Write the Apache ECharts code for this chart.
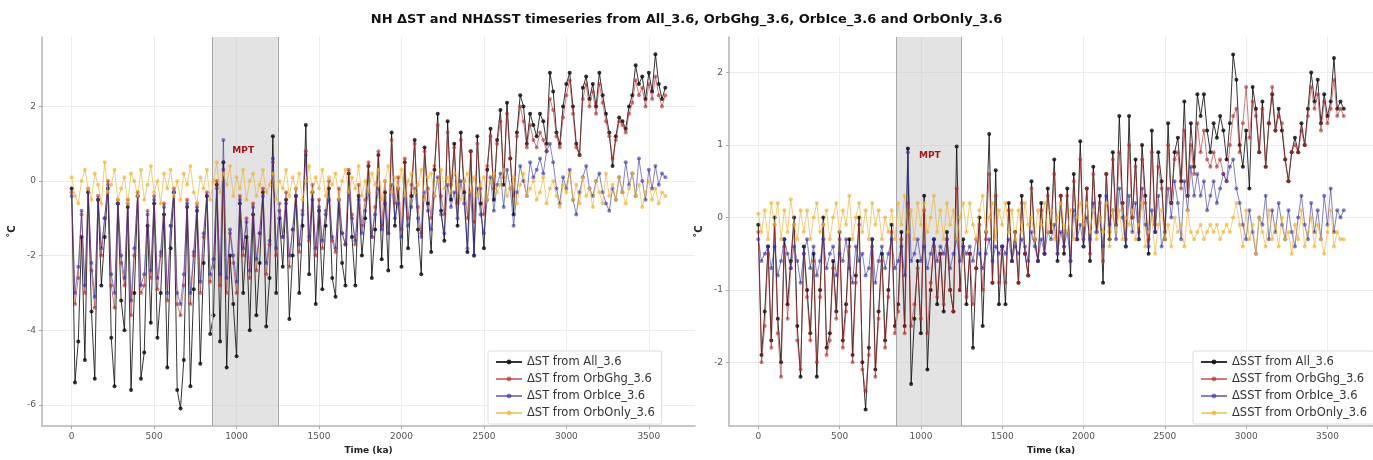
<!DOCTYPE html>
<html>
<head>
<meta charset="utf-8">
<script src="https://cdn.jsdelivr.net/npm/echarts@6/dist/echarts.min.js"></script>
<style>
  html, body { margin: 0; padding: 0; background: #fff; }
  #chart { width: 1373px; height: 460px; }
</style>
</head>
<body>
<div id="chart"></div>
<script>
// time axis, every 20 ka from 0 to 3600
const times = [];
for (let t = 0; t <= 3600; t += 20) times.push(t);

const xTicks = [0, 500, 1000, 1500, 2000, 2500, 3000, 3500];
const yTicksST = [-6, -4, -2, 0, 2];
const yTicksSST = [-2, -1, 0, 1, 2];

// NH ΔST (left panel)
const stAll = [
  -0.2, -5.4, -4.3, -1.5, -4.8,  -0.3, -3.5, -5.3, -0.5, -2.8,
  -1.5, -0.2, -4.2, -5.5, -0.6,  -3.2, -4.0, -0.7, -5.6, -3.0,
  -0.4, -5.3, -4.6, -1.2, -3.8,  -0.6, -4.2, -3.0, -0.9, -5.0,
  -1.8, -0.3, -5.6, -6.1, -4.8,  -0.7, -5.5, -2.9, -0.8, -4.9,
  -2.2, -0.4, -4.1, -3.6, -0.1,  -4.3, 0.5, -5.0, -2.0, -3.3,
  -4.7, -0.6, -3.0, -1.5, -4.0,  -0.9, -3.6, -2.2, -0.3, -3.9,
  -2.6, 1.2, -3.0, -1.0, -2.3,   -0.5, -3.7, -2.0, -0.4, -3.0,
  -1.2, 1.5, -2.5, -0.3, -3.3,   -0.8, -2.9, -1.2, -0.2, -2.6,
  -3.1, -0.5, -2.2, -2.8, 0.2,   -1.5, -2.8, -0.4, -2.0, -1.0,
  0.4, -2.6, -1.3, 0.7, -2.1,    -0.3, -2.4, 1.3, -1.2, -0.2,
  -2.3, 0.5, -1.8, -0.4, 1.1,    -1.3, -2.5, 0.9, -0.6, -1.9,
  0.3, 1.8, -0.8, -1.6, 1.6,     -0.5, 1.0, -1.2, 1.3, -0.3,
  -1.9, 0.8, -2.0, 1.2, -0.6,    -1.8, 0.3, 1.4, -0.5, 1.1,
  1.9, -0.1, 2.1, 0.6, -0.9,     1.3, 2.3, 2.0, 1.0, 1.8,
  1.5, 1.2, 1.8, 1.6, 1.0,       2.9, 2.4, 1.3, 1.0, 2.0,
  2.6, 2.9, 2.0, 1.0, 0.7,       2.5, 2.8, 2.2, 2.6, 2.0,
  2.9, 2.3, 1.8, 1.3, 0.4,       1.2, 1.7, 1.6, 1.4, 2.0,
  2.3, 3.1, 2.6, 2.8, 2.2,       2.9, 2.4, 3.4, 2.6, 2.2,
  2.5
];
const stOrbGhg = [
  -0.3, -3.3, -2.6, -0.9, -3.0,  -0.2, -2.4, -3.4, -0.4, -2.0,
  -1.0, 0.0, -2.8, -3.4, -0.5,   -2.2, -2.8, -0.5, -3.6, -2.0,
  -0.3, -3.0, -2.8, -0.8, -2.6,  -0.4, -2.9, -2.0, -0.6, -3.2,
  -1.2, -0.2, -3.3, -3.6, -2.8,  -0.5, -3.3, -2.0, -0.6, -3.0,
  -1.5, -0.3, -2.7, -2.3, 0.0,   -2.8, 0.3, -3.0, -1.4, -2.2,
  -3.0, -0.4, -2.0, -1.0, -2.6,  -0.6, -2.4, -1.4, -0.2, -2.5,
  -1.7, 0.5, -2.0, -0.6, -1.5,   -0.3, -2.3, -1.3, -0.2, -1.9,
  -0.8, 0.8, -1.6, -0.1, -2.0,   -0.5, -1.8, -0.8, 0.0, -1.6,
  -1.9, -0.2, -1.4, -1.7, 0.3,   -0.9, -1.7, -0.1, -1.2, -0.5,
  0.5, -1.5, -0.7, 0.8, -1.2,    0.0, -1.4, 1.1, -0.6, 0.1,
  -1.3, 0.6, -1.0, -0.1, 1.0,    -0.7, -1.4, 0.8, -0.2, -1.0,
  0.4, 1.5, -0.4, -0.9, 1.3,     -0.1, 0.9, -0.6, 1.1, 0.0,
  -1.0, 0.8, -1.1, 1.0, -0.2,    -0.9, 0.4, 1.2, -0.2, 1.0,
  1.6, 0.1, 1.8, 0.6, -0.4,      1.2, 2.0, 1.6, 0.9, 1.5,
  1.1, 0.9, 1.3, 1.1, 0.8,       2.2, 1.9, 1.2, 0.9, 1.7,
  2.3, 2.7, 1.8, 0.9, 0.7,       2.2, 2.6, 2.0, 2.4, 1.8,
  2.6, 2.1, 1.6, 1.2, 0.6,       1.1, 1.6, 1.5, 1.3, 1.8,
  2.1, 2.7, 2.3, 2.5, 2.0,       2.6, 2.2, 2.8, 2.3, 2.0,
  2.3
];
const stOrbIce = [
  -0.4, -3.0, -2.3, -0.8, -2.8,  -0.3, -2.2, -3.1, -0.5, -1.8,
  -1.0, -0.1, -2.5, -3.0, -0.6,  -2.0, -2.6, -0.6, -3.2, -1.8,
  -0.4, -2.8, -2.5, -0.9, -2.4,  -0.5, -2.6, -1.9, -0.7, -3.0,
  -1.2, -0.3, -3.0, -3.3, -2.5,  -0.6, -3.0, -1.9, -0.7, -2.7,
  -1.4, -0.4, -2.5, -2.1, -0.2,  -2.5, 1.1, -2.6, -1.3, -2.0,
  -2.7, -0.5, -1.8, -1.1, -2.4,  -0.7, -2.1, -1.4, -0.4, -2.2,
  -1.6, 0.6, -1.8, -0.8, -1.5,   -0.6, -2.0, -1.3, -0.4, -1.7,
  -0.9, 0.7, -1.5, -0.5, -1.8,   -0.7, -1.6, -0.9, -0.5, -1.5,
  -1.8, -0.5, -1.4, -1.7, -0.3,  -1.0, -1.6, -0.5, -1.4, -0.8,
  -0.3, -1.5, -0.9, -0.2, -1.3,  -0.6, -1.4, -0.1, -1.0, -0.6,
  -1.5, -0.4, -1.2, -0.7, -0.2,  -1.0, -1.5, -0.3, -0.8, -1.3,
  -0.4, 0.1, -0.9, -1.4, -0.1,   -0.7, -0.3, -1.0, 0.0, -0.6,
  -1.8, -0.3, -2.0, -0.2, -0.9,  -1.4, -0.5, 0.1, -0.8, -0.1,
  0.2, -0.7, 0.3, -0.2, -1.2,    -0.3, 0.4, 0.0, -0.4, 0.5,
  0.1, 0.3, 0.6, 0.2, 0.8,       1.0, 0.5, -0.2, -0.6, 0.1,
  -0.2, 0.3, -0.5, -0.9, -0.3,   0.1, 0.4, -0.2, -0.4, 0.0,
  0.2, -0.3, -0.6, -0.8, -0.2,   -0.5, 0.1, -0.3, 0.5, -0.1,
  0.2, -0.4, 0.6, 0.0, -0.5,     0.3, -0.2, 0.4, -0.1, 0.2,
  0.1
];
const stOrbOnly = [
  0.1, -0.4, -0.6, 0.0, 0.3,     -0.2, -0.5, 0.2, -0.1, -0.6,
  0.5, -0.3, -0.1, 0.3, -0.5,    -0.2, 0.1, -0.6, 0.2, 0.0,
  -0.4, 0.3, -0.5, -0.1, 0.4,    -0.3, 0.0, -0.6, 0.2, -0.2,
  0.3, -0.4, 0.0, -0.5, 0.2,     -0.1, 0.4, -0.3, -0.6, 0.1,
  -0.2, 0.3, -0.5, 0.0, 0.5,     -0.3, 0.2, -0.1, 0.4, -0.4,
  0.1, -0.2, 0.3, -0.5, 0.0,     0.2, -0.4, -0.1, 0.3, -0.3,
  -0.1, 0.2, -0.5, 0.0, -0.2,    0.3, -0.4, 0.1, -0.2, 0.2,
  -0.5, 0.0, 0.4, -0.3, 0.1,     -0.2, 0.3, -0.4, 0.1, -0.1,
  0.2, -0.5, 0.0, 0.3, -0.3,     0.1, -0.2, 0.4, -0.4, 0.0,
  -0.3, 0.2, -0.1, 0.3, -0.5,    0.0, 0.4, -0.3, 0.1, -0.2,
  0.3, -0.4, 0.0, 0.2, -0.3,     -0.1, 0.3, -0.5, 0.1, 0.2,
  -0.4, 0.0, 0.3, -0.2, 0.1,     -0.3, 0.2, -0.1, -0.5, 0.0,
  0.2, -0.3, 0.1, -0.4, -0.1,    0.1, -0.5, 0.0, 0.2, -0.3,
  -0.1, 0.3, -0.4, -0.2, 0.1,    -0.6, -0.1, 0.2, -0.4, -0.2,
  0.0, -0.5, -0.3, 0.1, -0.6,    -0.2, 0.0, -0.4, -0.7, -0.1,
  -0.3, 0.2, -0.5, -0.1, -0.6,   0.1, -0.4, -0.2, -0.7, 0.0,
  -0.3, -0.6, 0.2, -0.4, -0.1,   -0.5, 0.1, -0.3, -0.6, -0.2,
  0.2, -0.4, -0.1, -0.7, -0.3,   0.0, -0.5, -0.2, -0.6, -0.3,
  -0.4
];

// NH ΔSST (right panel)
const sstAll = [
  -0.1, -1.9, -1.3, -0.4, -1.7,  0.0, -1.4, -2.0, -0.3, -1.2,
  -0.6, 0.0, -1.5, -2.2, -0.4,   -1.0, -1.6, -0.5, -2.2, -1.0,
  0.0, -1.8, -1.6, -0.6, -1.3,   -0.2, -1.7, -1.2, -0.3, -1.9,
  -0.8, 0.0, -2.0, -2.65, -1.8,  -0.3, -2.1, -1.3, -0.5, -1.7,
  -1.0, -0.1, -1.5, -1.2, -0.2,  -1.5, 0.95, -2.3, -1.4, -0.6,
  -1.6, 0.3, -2.1, -1.0, -0.3,   -1.2, -0.5, -1.3, -0.2, -1.0,
  -1.3, 0.98, -1.0, -0.3, -1.2,  -0.5, -1.8, -0.7, 0.0, -1.5,
  -0.2, 1.15, -0.9, 0.65, -1.2,  -0.4, -1.2, 0.2, -0.6, -0.2,
  -0.9, 0.3, -0.5, -0.8, 0.5,    -0.3, -0.6, 0.2, -0.5, 0.4,
  -0.2, 0.8, -0.6, 0.3, -0.5,    0.4, -0.8, 0.6, -0.3, 1.05,
  -0.4, 0.4, -0.6, 0.7, -0.2,    0.3, -0.9, 0.6, -0.3, 0.9,
  -0.1, 1.4, 0.2, -0.4, 1.4,     0.0, 0.8, -0.3, 1.0, 0.3,
  -0.5, 1.2, -0.2, 0.9, 0.5,     -0.3, 1.3, 0.2, 0.9, 1.1,
  0.5, 1.6, 0.3, 1.3, 0.7,       1.7, 1.4, 1.7, 1.2, 0.9,
  1.3, 1.1, 1.4, 1.2, 0.8,       1.3, 2.25, 1.9, 1.0, 0.7,
  1.2, 0.4, 1.8, 1.5, 0.9,       1.6, 0.7, 1.3, 1.7, 1.2,
  1.5, 1.2, 0.8, 0.5, 0.9,       1.1, 0.9, 1.3, 1.0, 1.5,
  2.0, 1.6, 1.9, 1.3, 1.7,       1.4, 1.6, 2.2, 1.5, 1.6,
  1.5
];
const sstOrbGhg = [
  -0.2, -2.0, -1.5, -0.5, -1.8,  -0.1, -1.6, -2.2, -0.4, -1.4,
  -0.7, -0.1, -1.7, -2.1, -0.5,  -1.1, -1.7, -0.6, -2.0, -1.1,
  -0.1, -1.9, -1.7, -0.7, -1.4,  -0.3, -1.8, -1.3, -0.4, -2.0,
  -0.9, -0.1, -2.1, -2.4, -1.9,  -0.4, -2.2, -1.4, -0.6, -1.8,
  -1.1, -0.2, -1.6, -1.3, -0.3,  -1.6, 0.2, -1.5, -1.2, -0.7,
  -1.4, 0.1, -1.6, -0.9, -0.4,   -1.1, -0.5, -1.2, -0.3, -1.0,
  -1.3, 0.4, -1.0, -0.4, -1.1,   -0.5, -1.2, -0.7, -0.1, -1.0,
  -0.3, 0.6, -0.9, 0.3, -0.9,    -0.4, -0.9, 0.1, -0.6, -0.2,
  -0.9, 0.2, -0.5, -0.8, 0.4,    -0.3, -0.6, 0.1, -0.5, 0.3,
  -0.2, 0.6, -0.5, 0.3, -0.4,    0.3, -0.6, 0.5, -0.3, 0.8,
  -0.3, 0.4, -0.5, 0.6, -0.2,    0.2, -0.6, 0.6, -0.2, 0.8,
  -0.1, 0.9, 0.2, -0.3, 1.0,     0.0, 0.7, -0.2, 0.8, 0.2,
  -0.3, 0.9, -0.1, 0.7, 0.4,     -0.2, 1.0, 0.2, 0.8, 0.9,
  0.4, 1.2, 0.3, 1.0, 0.6,       1.3, 0.9, 1.2, 0.8, 0.7,
  0.9, 0.7, 0.8, 0.6, 0.5,       1.0, 1.4, 1.5, 0.9, 1.3,
  1.8, 1.1, 1.6, 1.4, 0.9,       1.5, 0.7, 1.3, 1.8, 1.2,
  1.4, 1.3, 0.8, 0.5, 0.9,       1.0, 0.9, 1.2, 1.0, 1.4,
  1.8, 1.5, 1.7, 1.2, 1.6,       1.3, 1.5, 1.9, 1.4, 1.5,
  1.4
];
const sstOrbIce = [
  -0.3, -0.6, -0.5, -0.4, -0.7,  -0.4, -0.8, -0.6, -0.3, -0.5,
  -0.7, -0.4, -0.6, -0.9, -0.5,  -0.3, -0.7, -0.4, -0.8, -0.6,
  -0.3, -0.7, -0.5, -0.4, -0.8,  -0.5, -0.6, -0.3, -0.7, -0.9,
  -0.4, -0.6, -0.5, -0.8, -0.7,  -0.3, -0.9, -0.6, -0.4, -0.7,
  -0.5, -0.3, -0.7, -0.6, -0.4,  -0.8, 0.9, -0.6, -0.5, -0.3,
  -0.6, -0.4, -0.7, -0.5, -0.3,  -0.6, -0.4, -0.5, -0.3, -0.7,
  -0.5, -0.3, -0.6, -0.4, -0.5,  -0.4, -0.6, -0.3, -0.5, -0.7,
  -0.5, -0.3, -0.6, -0.4, -0.5,  -0.4, -0.5, -0.3, -0.6, -0.4,
  -0.5, -0.3, -0.4, -0.6, -0.2,  -0.4, -0.6, -0.3, -0.5, -0.2,
  -0.3, -0.1, -0.5, -0.2, -0.4,  -0.2, -0.6, 0.1, -0.3, -0.1,
  -0.4, 0.0, -0.3, 0.2, -0.2,    0.0, -0.4, 0.3, -0.1, 0.1,
  -0.3, 0.4, 0.0, -0.4, 0.3,     -0.2, 0.2, -0.3, 0.4, -0.1,
  -0.4, 0.1, -0.2, 0.3, -0.4,    -0.2, 0.4, 0.0, 0.5, 0.2,
  -0.3, 0.5, 0.1, 0.7, 0.3,      0.6, 0.3, 0.5, 0.1, 0.3,
  0.5, 0.2, 0.4, 0.6, 0.5,       0.7, 0.8, 0.4, 0.2, -0.1,
  -0.3, 0.1, -0.2, -0.5, 0.0,    -0.1, 0.3, -0.3, 0.1, -0.2,
  0.2, -0.1, -0.3, 0.1, -0.2,    -0.4, 0.0, 0.3, -0.1, -0.3,
  0.2, -0.2, 0.1, -0.3, 0.3,     -0.1, 0.4, -0.2, 0.1, 0.0,
  0.1
];
const sstOrbOnly = [
  0.05, -0.2, 0.1, -0.3, 0.2,    -0.1, 0.2, -0.3, 0.1, -0.2,
  0.25, -0.1, -0.3, 0.1, -0.2,   0.1, -0.3, 0.0, 0.2, -0.2,
  -0.1, 0.1, -0.3, 0.0, 0.2,     -0.2, 0.1, -0.1, 0.3, -0.3,
  0.0, 0.2, -0.2, 0.1, -0.3,     0.2, -0.1, 0.1, -0.3, 0.0,
  -0.2, 0.1, -0.3, 0.2, -0.1,    0.3, -0.2, 0.1, -0.3, 0.2,
  -0.1, 0.2, -0.2, 0.0, 0.3,     -0.2, 0.1, -0.3, 0.2, -0.1,
  0.1, -0.3, 0.0, 0.2, -0.2,     0.2, -0.1, -0.3, 0.1, 0.3,
  -0.2, 0.0, 0.2, -0.3, 0.1,     -0.1, 0.2, -0.2, 0.1, -0.3,
  0.1, -0.2, 0.2, -0.1, 0.0,     -0.3, 0.1, -0.1, 0.2, -0.2,
  0.1, -0.3, 0.0, 0.2, -0.1,     -0.2, 0.1, -0.3, 0.0, 0.2,
  -0.1, 0.2, -0.2, 0.1, -0.3,    0.0, -0.2, 0.2, -0.4, 0.1,
  -0.2, 0.1, -0.3, 0.0, -0.1,    0.1, -0.3, -0.1, 0.2, -0.4,
  -0.2, 0.0, -0.5, -0.1, 0.1,    -0.3, -0.1, -0.4, 0.0, -0.2,
  -0.1, -0.4, 0.1, -0.2, -0.3,   -0.2, -0.1, -0.3, -0.2, -0.1,
  -0.2, -0.1, -0.3, -0.2, -0.1,  -0.2, 0.0, 0.2, -0.1, -0.4,
  0.1, -0.3, -0.1, -0.5, 0.0,    -0.2, -0.4, 0.1, -0.3, -0.1,
  -0.4, 0.0, -0.3, -0.2, -0.5,   -0.1, -0.3, 0.1, -0.4, -0.2,
  0.0, -0.4, -0.1, -0.3, -0.5,   -0.2, 0.1, -0.4, -0.2, -0.3,
  -0.3
];

const colors = ['#111111', '#b02525', '#2f2fa8', '#efb22e'];
const alphas = [0.85, 0.6, 0.6, 0.65];
const stNames = ['ΔST from All_3.6', 'ΔST from OrbGhg_3.6', 'ΔST from OrbIce_3.6', 'ΔST from OrbOnly_3.6'];
const sstNames = ['ΔSST from All_3.6', 'ΔSST from OrbGhg_3.6', 'ΔSST from OrbIce_3.6', 'ΔSST from OrbOnly_3.6'];

function lineSeries(name, vals, k, axis) {
  return {
    type: 'line',
    name: name,
    xAxisIndex: axis,
    yAxisIndex: axis,
    data: times.map((t, i) => [t, vals[i]]),
    symbol: 'circle',
    symbolSize: 4,
    showSymbol: true,
    lineStyle: { width: 1, color: colors[k], opacity: alphas[k] },
    itemStyle: { color: colors[k], opacity: alphas[k] },
    z: 3 + k,
    animation: false
  };
}

// MPT shading, drawn under the lines
function mptSeries(axis, labelX, labelY) {
  return {
    type: 'line',
    name: 'mpt' + axis,
    xAxisIndex: axis,
    yAxisIndex: axis,
    data: [],
    z: 1,
    silent: true,
    markArea: {
      silent: true,
      itemStyle: { color: 'rgba(200,200,200,0.5)' },
      data: [[{ xAxis: 850 }, { xAxis: 1250 }]]
    },
    markLine: {
      silent: true,
      symbol: 'none',
      label: { show: false },
      lineStyle: { color: '#a8a8a8', type: 'solid', width: 1 },
      data: [{ xAxis: 850 }, { xAxis: 1250 }]
    },
    markPoint: {
      silent: true,
      symbol: 'circle',
      symbolSize: 1,
      itemStyle: { color: 'rgba(0,0,0,0)' },
      label: { show: true, position: 'inside', formatter: 'MPT', color: '#a01818', fontWeight: 'bold', fontSize: 9, fontFamily: 'DejaVu Sans' },
      data: [{ coord: [labelX, labelY] }]
    }
  };
}

const plainNum = v => String(v);

function xAxisCfg(idx) {
  return {
    gridIndex: idx,
    type: 'value',
    min: -180,
    max: 3780,
    axisLine: { show: true, onZero: false, lineStyle: { color: '#b5b5b5', width: 1.5 } },
    axisTick: { show: true, customValues: xTicks, length: 3, lineStyle: { color: '#aaa' } },
    axisLabel: { customValues: xTicks, formatter: plainNum, fontSize: 9, color: '#555', fontFamily: 'DejaVu Sans', margin: 6 },
    splitLine: { show: true, lineStyle: { color: '#ececec', width: 1 } },
    name: 'Time (ka)',
    nameLocation: 'middle',
    nameGap: 18,
    nameTextStyle: { fontWeight: 'bold', fontSize: 9, color: '#222', fontFamily: 'DejaVu Sans' }
  };
}

function yAxisCfg(idx, min, max, ticks) {
  return {
    gridIndex: idx,
    type: 'value',
    min: min,
    max: max,
    axisLine: { show: true, onZero: false, lineStyle: { color: '#b5b5b5', width: 1.5 } },
    axisTick: { show: true, customValues: ticks, length: 3, lineStyle: { color: '#aaa' } },
    axisLabel: { customValues: ticks, formatter: plainNum, fontSize: 9, color: '#555', fontFamily: 'DejaVu Sans', margin: 6 },
    splitLine: { show: true, lineStyle: { color: '#ececec', width: 1 } },
    name: '˚C',
    nameLocation: 'middle',
    nameGap: 25,
    nameRotate: 90,
    nameTextStyle: { fontWeight: 'bold', fontSize: 10, color: '#222', fontFamily: 'DejaVu Sans' }
  };
}

function legendCfg(names, left) {
  return {
    data: names,
    orient: 'vertical',
    left: left,
    top: 351,
    itemWidth: 26,
    itemHeight: 6,
    itemGap: 5,
    padding: [5, 7],
    borderColor: '#dcdcdc',
    borderWidth: 1,
    borderRadius: 2,
    backgroundColor: 'rgba(255,255,255,0.85)',
    textStyle: { fontSize: 11.5, color: '#333', fontFamily: 'DejaVu Sans' }
  };
}

const chart = echarts.init(document.getElementById('chart'), null, { renderer: 'canvas' });

const series = [mptSeries(0, 1040, 0.8), mptSeries(1, 1055, 0.85)];
[stAll, stOrbGhg, stOrbIce, stOrbOnly].forEach((v, k) => series.push(lineSeries(stNames[k], v, k, 0)));
[sstAll, sstOrbGhg, sstOrbIce, sstOrbOnly].forEach((v, k) => series.push(lineSeries(sstNames[k], v, k, 1)));

chart.setOption({
  animation: false,
  backgroundColor: '#ffffff',
  title: {
    text: 'NH ΔST and NHΔSST timeseries from All_3.6, OrbGhg_3.6, OrbIce_3.6 and OrbOnly_3.6',
    left: 'center',
    top: 8,
    textStyle: { fontSize: 13, fontWeight: 'bold', color: '#111', fontFamily: 'DejaVu Sans' }
  },
  grid: [
    { left: 42, top: 37, width: 653, height: 397 },
    { left: 729, top: 37, width: 653, height: 398 }
  ],
  xAxis: [xAxisCfg(0), xAxisCfg(1)],
  yAxis: [
    yAxisCfg(0, -6.57, 3.86, yTicksST),
    yAxisCfg(1, -2.88, 2.49, yTicksSST)
  ],
  legend: [legendCfg(stNames, 488), legendCfg(sstNames, 1193)],
  series: series
});
</script>
</body>
</html>
